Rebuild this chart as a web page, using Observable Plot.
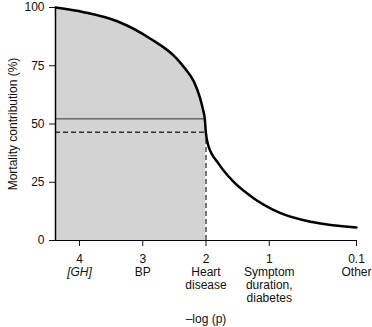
<!DOCTYPE html>
<html><head><meta charset="utf-8">
<script src="https://cdn.jsdelivr.net/npm/d3@7"></script>
<script src="https://cdn.jsdelivr.net/npm/@observablehq/plot@0.6"></script>
<style>body{margin:0;background:#fff;font-family:"Liberation Sans",Arial,sans-serif}</style>
</head><body><div id="chart"></div>
<script>
// curve: -log(p) position vs mortality contribution (%)
const curveX = [4.38, 3.932, 3.404, 2.878, 2.47, 2.325, 2.193, 2.098, 2.044, 2.019, 2.003, 1.972, 1.798, 1.586, 1.27, 0.849, 0.321, -0.38];
const curveY = [100, 98.0, 94.1, 86.6, 78.3, 73.6, 68.3, 61.5, 55.8, 52.2, 46.5, 41.5, 32.9, 25.8, 18.6, 12.1, 7.9, 5.6];
const tickPos = [4, 3, 2, 1, -0.38];
const tickNums = ["4", "3", "2", "1", "0.1"];
const tickNames = ["[GH]", "BP", "Heart\ndisease", "Symptom\nduration,\ndiabetes", "Other"];
const yTicks = [0, 25, 50, 75, 100];
const solidLevel = 52.2;
const dashedLevel = 46.5;
const cutX = 2;
const xDomain = [4.38, -0.38];

const curve = curveX.map((x, i) => ({x, y: curveY[i]}));
const shaded = curve.filter(d => d.x >= 2.0);
const solidEnd = 2.019;

const labels = tickPos.map((x, i) => ({x, num: tickNums[i], name: tickNames[i], italic: i === 0}));

const plot = Plot.plot({
  width: 372, height: 327,
  marginLeft: 55, marginRight: 16, marginTop: 7, marginBottom: 87,
  style: {fontFamily: "Liberation Sans, Arial, sans-serif", fontSize: "12px", color: "#111"},
  x: {domain: xDomain, range: [55, 356]},
  y: {domain: [0, 100], range: [240, 7]},
  marks: [
    Plot.areaY(shaded, {x: "x", y: "y", fill: "#d3d3d3", curve: "monotone-x"}),
    Plot.ruleY([solidLevel], {x1: xDomain[0], x2: solidEnd, stroke: "#333", strokeWidth: 1}),
    Plot.ruleY([dashedLevel], {x1: xDomain[0], x2: cutX, stroke: "#333", strokeWidth: 1.5, strokeDasharray: "5,3"}),
    Plot.ruleX([cutX], {y1: 0, y2: dashedLevel, stroke: "#333", strokeWidth: 1.3, strokeDasharray: "5,3"}),
    Plot.line(curve, {x: "x", y: "y", stroke: "#000", strokeWidth: 2.5, curve: "monotone-x"}),
    Plot.ruleX([xDomain[0]], {y1: 0, y2: 100, stroke: "#000", strokeWidth: 1.5}),
    Plot.ruleY([0], {x1: xDomain[0], x2: xDomain[1], stroke: "#000", strokeWidth: 1.2}),
    Plot.axisY(yTicks, {tickSize: 6, tickPadding: 5, label: "Mortality contribution (%)", labelAnchor: "center", labelArrow: "none", labelOffset: 47, fontSize: 12}),
    Plot.axisX(tickPos, {tickSize: 6, tickPadding: 8, tickFormat: (d, i) => tickNums[i], label: "–log (p)", labelAnchor: "center", labelArrow: "none", labelOffset: 82, fontSize: 12}),
    Plot.text(labels.filter(d => !d.italic), {x: "x", y: 0, text: "name", dy: 27, lineAnchor: "top", lineHeight: 1.05, fontSize: 12}),
    Plot.text(labels.filter(d => d.italic), {x: "x", y: 0, text: "name", dy: 27, lineAnchor: "top", fontStyle: "italic", fontSize: 12})
  ]
});
document.getElementById("chart").appendChild(plot);
</script></body></html>
